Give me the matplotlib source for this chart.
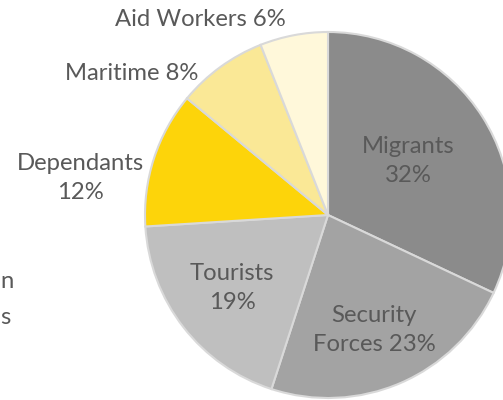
import matplotlib
matplotlib.use('Agg')
import matplotlib.pyplot as plt

categories = ['Migrants', 'Security\nForces', 'Tourists', 'Dependants', 'Maritime', 'Aid Workers']
shares = [32, 23, 19, 12, 8, 6]
colors = ['#8b8b8b', '#a3a3a3', '#bfbfbf', '#fdd40a', '#fae896', '#fff8da']
label_seps = ['\n', ' ', '\n', '\n', ' ', ' ']
# label centres in pixel coords (x, y from top)
label_pos = [(408, 161), (374, 330), (232, 288), (80, 178), (132, 73), (200, 20)]

plt.rcParams['font.family'] = ['Lato', 'DejaVu Sans']

fig = plt.figure(figsize=(5.03, 4.0), dpi=100)
ax = fig.add_axes([0, 0, 1, 1])

ax.pie(shares, colors=colors, startangle=90, counterclock=False,
       center=(328, 185), radius=183, frame=True,
       wedgeprops=dict(edgecolor='#d9d9d9', linewidth=1.5))
ax.set_xlim(0, 503)
ax.set_ylim(0, 400)
ax.set_aspect('equal')
ax.axis('off')

for cat, val, sep, (x, y) in zip(categories, shares, label_seps, label_pos):
    text = cat + sep + str(val) + '%' if '\n' not in cat else cat + ' ' + str(val) + '%'
    ax.text(x, 400 - y, text, ha='center', va='center', fontsize=17.2,
            color='#595959', linespacing=1.5)

# cut-off text at the left edge
ax.text(0, 400 - 281, 'n', ha='left', va='center', fontsize=17.2, color='#595959')
ax.text(0, 400 - 318, 's', ha='left', va='center', fontsize=17.2, color='#595959')

fig.savefig('out.png', dpi=100)
